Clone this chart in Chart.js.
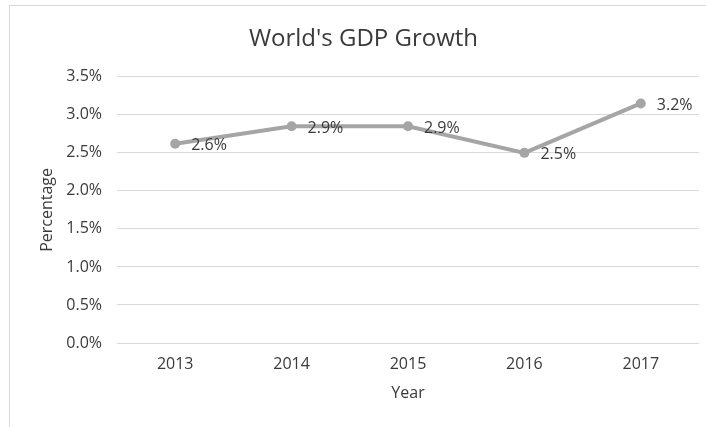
<!DOCTYPE html>
<html>
<head>
<meta charset="utf-8">
<script src="https://cdn.jsdelivr.net/npm/chart.js@4/dist/chart.umd.min.js"></script>
<style>
  body { margin: 0; background: #fff; }
  #frame { position: absolute; left: 9px; top: 5px; width: 720px; height: 440px;
           border-left: 1px solid #d9d9d9; border-top: 1px solid #d9d9d9; }
  #gdp { position: absolute; left: 0; top: 0; }
</style>
</head>
<body>
<div id="frame"></div>
<canvas id="gdp" width="706" height="427"></canvas>
<script>
const years = ['2013', '2014', '2015', '2016', '2017']
const growth = [2.62, 2.85, 2.85, 2.5, 3.15]
const growthLabels = ['2.6%', '2.9%', '2.9%', '2.5%', '3.2%']

const FONT = "'Open Sans', sans-serif"
const TEXT = '#3a3a3a'

// draws the value labels to the right of each point
const pointLabels = {
  id: 'pointLabels',
  afterDatasetsDraw(chart) {
    const ctx = chart.ctx
    const meta = chart.getDatasetMeta(0)
    ctx.save()
    ctx.font = '16px ' + FONT
    ctx.fillStyle = TEXT
    ctx.textAlign = 'left'
    ctx.textBaseline = 'middle'
    meta.data.forEach((pt, i) => {
      ctx.fillText(growthLabels[i], pt.x + 16, pt.y + 2)
    })
    ctx.restore()
  }
}

const ctx = document.querySelector('#gdp')
const gdpChart = new Chart(ctx, {
  type: 'line',
  data: {
    labels: years,
    datasets: [{
      label: 'GDP Growth',
      data: growth,
      borderColor: '#a5a5a5',
      backgroundColor: '#a5a5a5',
      borderWidth: 4,
      pointRadius: 5,
      pointHoverRadius: 5,
      pointBackgroundColor: '#a5a5a5',
      pointBorderWidth: 0,
      tension: 0
    }]
  },
  options: {
    responsive: false,
    animation: false,
    layout: { padding: { left: 28, right: 7, top: 5, bottom: 0 } },
    plugins: {
      legend: { display: false },
      tooltip: { enabled: false },
      title: {
        display: true,
        text: "World's GDP Growth",
        color: TEXT,
        font: { family: FONT, size: 24, weight: 'normal' },
        padding: { top: 20, bottom: 23 }
      }
    },
    scales: {
      x: {
        offset: true,
        grid: { display: false, drawTicks: false },
        border: { display: false },
        ticks: { color: TEXT, font: { family: FONT, size: 16 }, padding: 12 },
        title: {
          display: true, text: 'Year', color: TEXT,
          font: { family: FONT, size: 16 }, padding: { top: 0, bottom: 24 }
        },
        afterFit(scale) { scale.height = 84 }
      },
      y: {
        min: 0,
        max: 3.5,
        grid: { color: '#d9d9d9', lineWidth: 1, drawTicks: false },
        border: { display: false },
        ticks: {
          stepSize: 0.5,
          color: TEXT,
          font: { family: FONT, size: 16 },
          padding: 15,
          callback: v => v.toFixed(1) + '%'
        },
        title: {
          display: true, text: 'Percentage', color: TEXT,
          font: { family: FONT, size: 16 }, padding: { top: 10, bottom: 0 }
        },
        afterFit(scale) { scale.width = 89 }
      }
    }
  },
  plugins: [pointLabels]
})
</script>
</body>
</html>
